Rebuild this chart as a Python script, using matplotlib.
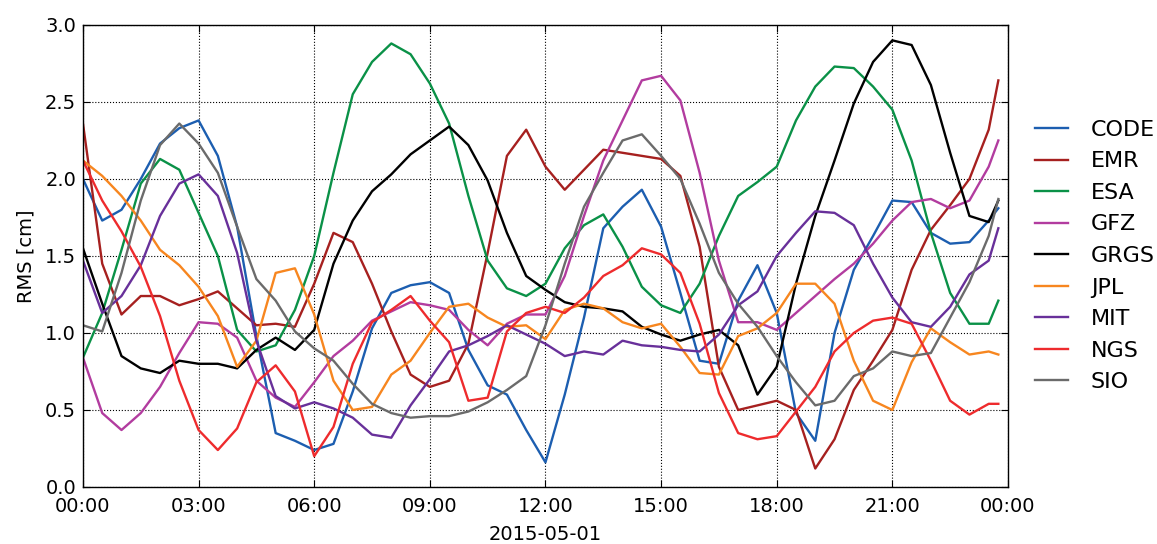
import numpy as np
import pandas as pd
import matplotlib
matplotlib.use("Agg")
import matplotlib.pyplot as plt
import matplotlib.dates as mdates

# half-hour samples over the day, last one at 23:45
hours = list(np.arange(0, 24, 0.5)) + [23.75]

code = [2.00, 1.73, 1.80, 2.00, 2.23, 2.33, 2.38, 2.15, 1.69, 0.98, 0.35, 0.30,
        0.24, 0.28, 0.62, 1.03, 1.26, 1.31, 1.33, 1.26, 0.89, 0.66, 0.60, 0.37,
        0.16, 0.60, 1.10, 1.68, 1.82, 1.93, 1.69, 1.26, 0.82, 0.80, 1.21, 1.44,
        1.13, 0.48, 0.30, 1.00, 1.41, 1.63, 1.86, 1.85, 1.65, 1.58, 1.59, 1.73, 1.81]
emr = [2.36, 1.45, 1.12, 1.24, 1.24, 1.18, 1.22, 1.27, 1.16, 1.05, 1.06, 1.04,
       1.32, 1.65, 1.59, 1.32, 1.01, 0.73, 0.65, 0.69, 0.93, 1.52, 2.15, 2.32,
       2.08, 1.93, 2.06, 2.19, 2.17, 2.15, 2.13, 2.02, 1.56, 0.78, 0.50, 0.53,
       0.56, 0.50, 0.12, 0.31, 0.63, 0.82, 1.02, 1.41, 1.67, 1.83, 2.00, 2.32, 2.64]
esa = [0.84, 1.13, 1.54, 1.97, 2.13, 2.06, 1.78, 1.50, 1.02, 0.88, 0.92, 1.15,
       1.50, 2.04, 2.55, 2.76, 2.88, 2.81, 2.62, 2.36, 1.89, 1.47, 1.29, 1.24,
       1.32, 1.55, 1.70, 1.77, 1.56, 1.30, 1.18, 1.13, 1.32, 1.63, 1.89, 1.98,
       2.08, 2.38, 2.60, 2.73, 2.72, 2.60, 2.45, 2.12, 1.65, 1.26, 1.06, 1.06, 1.21]
gfz = [0.84, 0.48, 0.37, 0.48, 0.65, 0.87, 1.07, 1.06, 0.97, 0.69, 0.58, 0.52,
       0.68, 0.85, 0.95, 1.08, 1.14, 1.20, 1.18, 1.15, 1.02, 0.92, 1.06, 1.12,
       1.12, 1.37, 1.76, 2.12, 2.38, 2.64, 2.67, 2.51, 2.04, 1.47, 1.07, 1.07,
       1.02, 1.13, 1.24, 1.35, 1.45, 1.58, 1.73, 1.85, 1.87, 1.81, 1.86, 2.08, 2.25]
grgs = [1.55, 1.19, 0.85, 0.77, 0.74, 0.82, 0.80, 0.80, 0.77, 0.89, 0.97, 0.89,
        1.02, 1.45, 1.73, 1.92, 2.03, 2.16, 2.25, 2.34, 2.22, 1.99, 1.65, 1.37,
        1.28, 1.20, 1.17, 1.16, 1.14, 1.04, 0.99, 0.95, 0.99, 1.02, 0.92, 0.60,
        0.78, 1.32, 1.76, 2.12, 2.49, 2.76, 2.90, 2.87, 2.61, 2.17, 1.76, 1.72, 1.86]
jpl = [2.12, 2.02, 1.89, 1.73, 1.54, 1.44, 1.30, 1.11, 0.78, 0.95, 1.39, 1.42,
       1.12, 0.69, 0.50, 0.52, 0.73, 0.82, 1.00, 1.17, 1.19, 1.10, 1.04, 1.05,
       0.96, 1.15, 1.19, 1.16, 1.07, 1.03, 1.06, 0.91, 0.74, 0.73, 0.98, 1.03,
       1.13, 1.32, 1.32, 1.19, 0.82, 0.56, 0.50, 0.81, 1.03, 0.94, 0.86, 0.88, 0.86]
mit = [1.47, 1.13, 1.24, 1.44, 1.76, 1.97, 2.03, 1.89, 1.52, 0.95, 0.59, 0.51,
       0.55, 0.51, 0.45, 0.34, 0.32, 0.53, 0.70, 0.88, 0.92, 0.98, 1.05, 0.99,
       0.93, 0.85, 0.88, 0.86, 0.95, 0.92, 0.91, 0.89, 0.88, 0.99, 1.18, 1.27,
       1.50, 1.65, 1.79, 1.78, 1.70, 1.45, 1.23, 1.07, 1.04, 1.17, 1.38, 1.47, 1.68]
ngs = [2.12, 1.86, 1.66, 1.43, 1.11, 0.69, 0.37, 0.24, 0.38, 0.68, 0.79, 0.62,
       0.20, 0.39, 0.80, 1.07, 1.15, 1.24, 1.08, 0.94, 0.56, 0.58, 1.01, 1.13,
       1.17, 1.13, 1.23, 1.37, 1.44, 1.55, 1.51, 1.39, 1.06, 0.61, 0.35, 0.31,
       0.33, 0.49, 0.65, 0.88, 1.00, 1.08, 1.10, 1.06, 0.82, 0.56, 0.47, 0.54, 0.54]
sio = [1.05, 1.01, 1.39, 1.86, 2.22, 2.36, 2.23, 2.04, 1.69, 1.35, 1.21, 1.01,
       0.90, 0.82, 0.67, 0.54, 0.48, 0.45, 0.46, 0.46, 0.49, 0.55, 0.63, 0.72,
       1.05, 1.45, 1.82, 2.04, 2.25, 2.29, 2.15, 2.00, 1.71, 1.39, 1.19, 1.04,
       0.85, 0.68, 0.53, 0.56, 0.72, 0.77, 0.88, 0.85, 0.87, 1.10, 1.33, 1.63, 1.87]

centers = ["CODE", "EMR", "ESA", "GFZ", "GRGS", "JPL", "MIT", "NGS", "SIO"]
series = [code, emr, esa, gfz, grgs, jpl, mit, ngs, sio]
colors = ["#1c5eb0", "#a6201f", "#0a9147", "#b23c9f", "#000000",
          "#f7861f", "#68309a", "#ee2b2d", "#6b6b6b"]

day = pd.Timestamp("2015-05-01")
times = day + pd.to_timedelta(hours, unit="h")

plt.rcParams["font.family"] = "DejaVu Sans"
plt.rcParams["font.size"] = 14

fig = plt.figure(figsize=(11.57, 5.44), dpi=100)
ax = fig.add_axes([0.0717, 0.1048, 0.7995, 0.8493])

for name, vals, c in zip(centers, series, colors):
    ax.plot(times, vals, color=c, lw=1.7, label=name)

ax.set_xlim(day, day + pd.Timedelta(hours=24))
ax.set_ylim(0, 3)
ax.set_yticks(np.arange(0, 3.01, 0.5))
ax.xaxis.set_major_locator(mdates.HourLocator(byhour=range(0, 24, 3)))
ax.xaxis.set_major_formatter(mdates.DateFormatter("%H:%M"))
ax.grid(True, color="black", linestyle=":", linewidth=0.8)
ax.tick_params(direction="in", top=True, right=True, length=5, labelsize=14)
ax.tick_params(axis="x", pad=7)
ax.tick_params(axis="y", pad=5)
for s in ax.spines.values():
    s.set_linewidth(1.0)

ax.set_xlabel("2015-05-01", fontsize=14, labelpad=7)
ax.set_ylabel("RMS [cm]", fontsize=14, labelpad=7)

ax.legend(loc="center left", bbox_to_anchor=(1.008, 0.5), frameon=False,
          fontsize=16, handlelength=1.45, handletextpad=1.05, labelspacing=0.52)

fig.savefig("out.png", dpi=100)
